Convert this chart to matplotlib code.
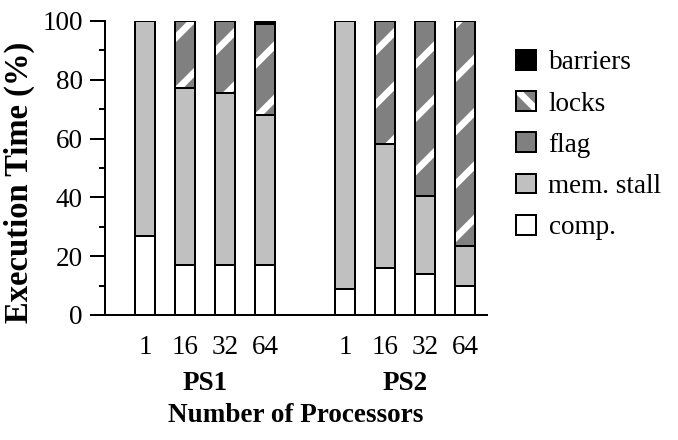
import matplotlib
matplotlib.use("Agg")
import numpy as np
from matplotlib import pyplot as plt
from matplotlib.patches import Patch

# data (percent of execution time)
groups = ["PS1", "PS2"]
procs = ["1", "16", "32", "64"]
comp = [27, 17, 17, 17, 9, 16, 14, 10]
mem_stall = [73, 60.3, 58.6, 51, 91, 42, 26.6, 13.5]
flag = [0, 22.7, 24.4, 31, 0, 42, 59.4, 76.5]
locks = [0, 0, 0, 0, 0, 0, 0, 0]
barriers = [0, 0, 0, 1, 0, 0, 0, 0]

# dpi chosen so the hatch stripes get the right spacing
DPI = 160
K = 100 / DPI          # font size scale (sizes below written for 100 dpi)
PX = 72 / DPI          # one pixel in points

plt.rcParams["font.family"] = ["Liberation Serif", "DejaVu Serif"]
plt.rcParams["hatch.linewidth"] = 3.0
FS = 19.5 * K

fig = plt.figure(figsize=(678 / DPI, 440 / DPI), dpi=DPI)
ax = fig.add_axes([105 / 678, 1 - 315 / 440, (487 - 105) / 678, (315 - 21) / 440])

x = np.array([0, 1, 2, 3, 5, 6, 7, 8])
w = 0.5
lw = 2 * PX

series = [
    (comp, "white", None),
    (mem_stall, "#c0c0c0", None),
    (flag, "#808080", "/"),
    (locks, "#808080", "\\"),
    (barriers, "black", None),
]
bottom = np.zeros(len(x))
for vals, col, hatch in series:
    vals = np.array(vals, dtype=float)
    if hatch:
        ax.bar(x, vals, w, bottom=bottom, color=col, hatch=hatch,
               edgecolor="white", linewidth=0, zorder=2)
        ax.bar(x, vals, w, bottom=bottom, facecolor="none",
               edgecolor="black", linewidth=lw, zorder=3)
    else:
        ax.bar(x, vals, w, bottom=bottom, color=col,
               edgecolor="black", linewidth=lw, zorder=3)
    bottom += vals

ax.set_xlim(-1.0, 8.55)
ax.set_ylim(0, 100)
ax.set_yticks(np.arange(0, 101, 20))
ax.set_yticks(np.arange(10, 100, 20), minor=True)
ax.tick_params(axis="y", which="major", length=15 * PX, width=lw,
               labelsize=FS, pad=7 * PX, direction="out")
ax.tick_params(axis="y", which="minor", length=6 * PX, width=lw, direction="out")
ax.set_xticks(x)
ax.set_xticklabels(procs * 2)
ax.tick_params(axis="x", length=0, labelsize=FS, pad=20 * PX)
for s in ["top", "right"]:
    ax.spines[s].set_visible(False)
for s in ["left", "bottom"]:
    ax.spines[s].set_linewidth(lw)

ax.set_ylabel("Execution Time (%)", fontsize=23.5 * K, fontweight="bold")
ax.yaxis.set_label_coords(-0.183, 0.45)

for gx, g in zip([1.5, 6.5], groups):
    ax.text(gx, 1 - (383 - 21) / 294, g, transform=ax.get_xaxis_transform(),
            ha="center", va="center", fontsize=FS, fontweight="bold")
fig.text(296 / 678, 1 - 415 / 440, "Number of Processors", ha="center",
         va="center", fontsize=FS, fontweight="bold")

outline = Patch(facecolor="none", edgecolor="black", linewidth=lw)
handles = [
    Patch(facecolor="black", edgecolor="black", linewidth=lw),
    (Patch(facecolor="#808080", hatch="\\", edgecolor="white", linewidth=0), outline),
    (Patch(facecolor="#808080", hatch="/", edgecolor="white", linewidth=0), outline),
    Patch(facecolor="#c0c0c0", edgecolor="black", linewidth=lw),
    Patch(facecolor="white", edgecolor="black", linewidth=lw),
]
labels = ["barriers", "locks", "flag", "mem. stall", "comp."]
fig.legend(handles, labels, loc="upper left",
           bbox_to_anchor=(516 / 678, 1 - 50 / 440), frameon=False,
           fontsize=FS, handlelength=0.75, handleheight=0.75,
           handletextpad=0.45, labelspacing=0.585, borderaxespad=0, borderpad=0)

fig.savefig("out.png", dpi=DPI)
